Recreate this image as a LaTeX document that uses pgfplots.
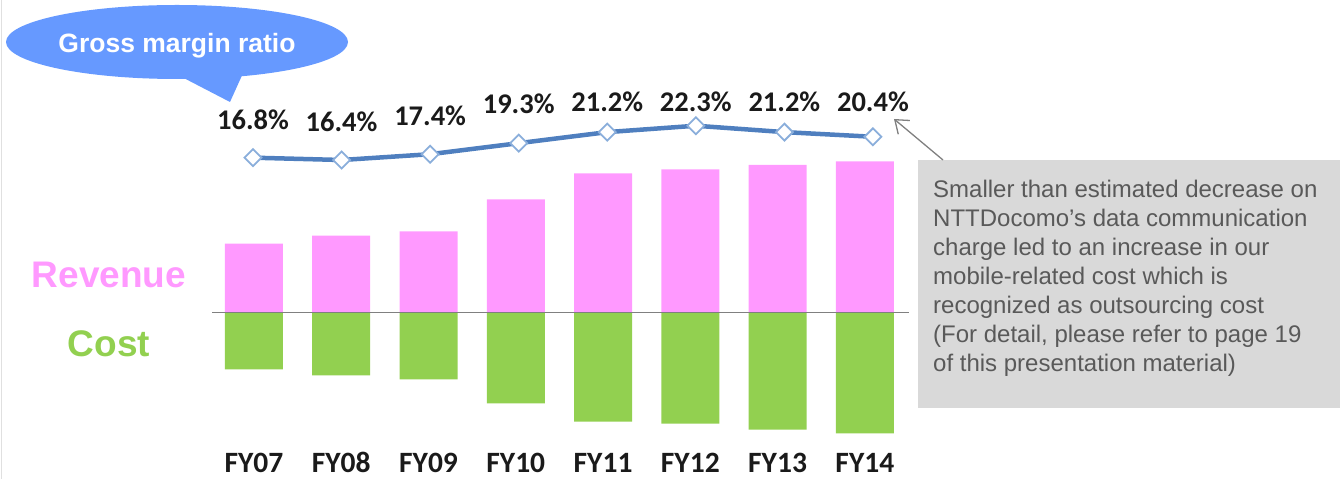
\documentclass[border=0pt]{standalone}
\usepackage{fontspec}
\setmainfont{Liberation Sans}
\newfontfamily\calfont{Carlito}
\usepackage{pgfplots}
\pgfplotsset{compat=1.18}
\usetikzlibrary{arrows.meta}
\definecolor{revpink}{HTML}{FF99FF}
\definecolor{costgreen}{HTML}{92D050}
\definecolor{lineblue}{HTML}{4F7FBF}
\definecolor{markblue}{HTML}{8AAEDB}
\definecolor{callblue}{HTML}{6699FF}
\definecolor{boxgray}{HTML}{D9D9D9}
\definecolor{boxtext}{HTML}{595959}
\definecolor{lbl}{HTML}{1A1A1A}
\begin{document}
\begin{tikzpicture}[x=1pt,y=1pt]
\useasboundingbox (0,0) rectangle (1340,479);
\draw[black!12, line width=1pt] (1,0) -- (1,479);

% bars: revenue (up) and cost (down)
\begin{axis}[at={(212pt,39pt)}, anchor=south west, scale only axis,
  width=697pt, height=350pt,
  xmin=-0.481, xmax=7.506, ymin=-127.7, ymax=222.3,
  axis line style={draw=none}, tick style={draw=none}, ytick=\empty,
  xtick={0,1,2,3,4,5,6,7},
  xticklabels={FY07,FY08,FY09,FY10,FY11,FY12,FY13,FY14},
  xticklabel style={font=\calfont\bfseries\fontsize{29.5}{29.5}\selectfont, text=lbl, anchor=base, inner sep=0pt, yshift=-28.5pt},
  ybar, bar width=58pt, bar shift=0pt, clip=false]
\addplot[fill=revpink, draw=none] coordinates {(0,68.6) (1,76.6) (2,81.0) (3,113.0) (4,139.0) (5,143.0) (6,147.3) (7,151.0)};
\addplot[fill=costgreen, draw=none] coordinates {(0,-57.0) (1,-63.0) (2,-67.0) (3,-91.0) (4,-109.4) (5,-111.4) (6,-117.4) (7,-121.0)};
\draw[black!50, line width=1.5pt] (axis cs:-0.481,0) -- (axis cs:7.506,0);
\end{axis}

% gross margin ratio line
\begin{axis}[at={(212pt,39pt)}, anchor=south west, scale only axis,
  width=697pt, height=350pt,
  xmin=-0.463, xmax=7.407, ymin=-31.79, ymax=28.45,
  hide axis, clip=false]
\addplot[lineblue, line width=4.5pt, mark=square*, mark size=6pt,
  mark options={rotate=45, fill=white, draw=markblue, line width=1.8pt}]
  coordinates {(0,16.8) (1,16.4) (2,17.4) (3,19.3) (4,21.2) (5,22.3) (6,21.2) (7,20.4)};
\tikzset{pl/.style={font=\calfont\bfseries\fontsize{28.5}{28.5}\selectfont, text=lbl}}
\node[pl] at (axis cs:0,23.37) {16.8\%};
\node[pl] at (axis cs:1,22.94) {16.4\%};
\node[pl] at (axis cs:2,23.97) {17.4\%};
\node[pl] at (axis cs:3,26.12) {19.3\%};
\node[pl] at (axis cs:4,26.38) {21.2\%};
\node[pl] at (axis cs:5,26.38) {22.3\%};
\node[pl] at (axis cs:6,26.38) {21.2\%};
\node[pl] at (axis cs:7,26.38) {20.4\%};
\end{axis}

% callout
\fill[callblue] (177,437) ellipse [x radius=171, y radius=37];
\fill[callblue] (176,405) -- (230,377) -- (244,408) -- cycle;
\node[anchor=base, text=white, font=\bfseries\fontsize{26.5}{26.5}\selectfont, inner sep=0] at (177,426) {Gross margin ratio};

% side labels
\node[anchor=base, text=revpink, font=\bfseries\fontsize{37}{37}\selectfont, inner sep=0] at (109,191) {Revenue};
\node[anchor=base, text=costgreen, font=\bfseries\fontsize{37}{37}\selectfont, inner sep=0] at (109,122) {Cost};

% note box
\fill[boxgray] (918,319) rectangle (1340,71);
\begin{scope}[every node/.style={anchor=base west, inner sep=0, text=boxtext, font=\fontsize{24}{29}\selectfont}]
\node at (933,281) {Smaller than estimated decrease on};
\node at (933,252) {NTTDocomo’s data communication};
\node at (933,223) {charge led to an increase in our};
\node at (933,194) {mobile-related cost which is};
\node at (933,165) {recognized as outsourcing cost};
\node at (933,136) {(For detail, please refer to page 19};
\node at (933,107) {of this presentation material)};
\end{scope}
\draw[black!50, line width=1.3pt, -{Straight Barb[length=12pt,width=18pt,line width=1.3pt]}] (943,319) -- (894,360);
\end{tikzpicture}
\end{document}
